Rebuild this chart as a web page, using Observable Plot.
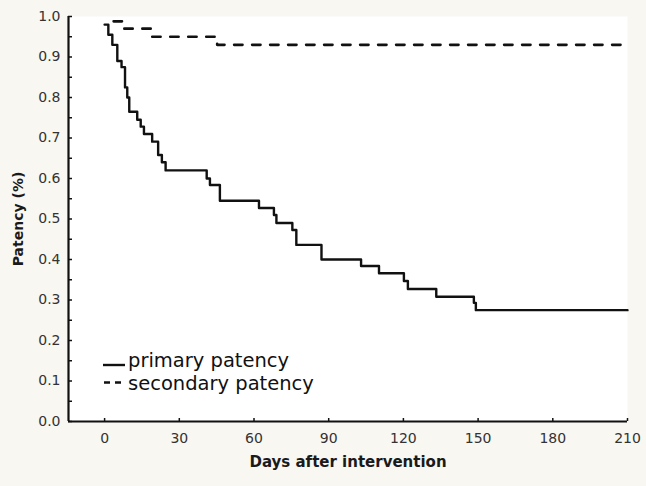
<!DOCTYPE html>
<html>
<head>
<meta charset="utf-8">
<script src="https://cdn.jsdelivr.net/npm/d3@7"></script>
<script src="https://cdn.jsdelivr.net/npm/@observablehq/plot@0.6"></script>
<style>
  html, body { margin: 0; padding: 0; background: #f9f7f2; }
  #wrap { position: relative; width: 646px; height: 486px; overflow: hidden; }
  .lg { position: absolute; font-family: "DejaVu Sans", sans-serif; font-size: 19.5px; line-height: 20px; color: #111; white-space: nowrap; }
  .sw { position: absolute; }
</style>
</head>
<body>
<div id="wrap"></div>
<script>
// Primary patency (Kaplan-Meier steps): day of step, survival after step
const primaryDays = [0, 1.5, 3.1, 5.1, 6.8, 8.2, 9.1, 9.9, 13.1, 14.5, 15.8, 19.1, 21.5, 23.0, 24.5, 41.0, 42.3, 46.3, 62.0, 68.0, 69.0, 75.4, 77.0, 87.1, 103.0, 110.2, 120.2, 121.8, 133.2, 148.3, 149.1, 210];
const primaryValues = [0.98, 0.955, 0.93, 0.89, 0.875, 0.825, 0.80, 0.765, 0.745, 0.728, 0.71, 0.691, 0.658, 0.64, 0.62, 0.60, 0.584, 0.545, 0.527, 0.51, 0.49, 0.473, 0.436, 0.40, 0.384, 0.366, 0.347, 0.327, 0.308, 0.293, 0.275, 0.275];
// Secondary patency
const secondaryDays = [0, 7.5, 18.6, 45.2, 210];
const secondaryValues = [0.988, 0.97, 0.95, 0.93, 0.93];

const xTicks = [0, 30, 60, 90, 120, 150, 180, 210];
const yTicks = [0, 0.1, 0.2, 0.3, 0.4, 0.5, 0.6, 0.7, 0.8, 0.9, 1.0];
const yMinorTicks = [0, 0.05, 0.1, 0.15, 0.2, 0.25, 0.3, 0.35, 0.4, 0.45, 0.5, 0.55, 0.6, 0.65, 0.7, 0.75, 0.8, 0.85, 0.9, 0.95, 1.0];
const xDomain = [-14.5, 210];
const yDomain = [0, 1];
const xTitle = "Days after intervention";
const yTitle = "Patency (%)";
const seriesNames = ["primary patency", "secondary patency"];

const primary = primaryDays.map((d, i) => ({d, p: primaryValues[i]}));
const secondary = secondaryDays.map((d, i) => ({d, p: secondaryValues[i]}));

const W = 646, H = 486, mL = 68, mR = 19, mT = 16, mB = 65;
const frameW = W - mL - mR, frameH = H - mT - mB;

const chart = Plot.plot({
  width: W, height: H,
  marginLeft: mL, marginRight: mR, marginTop: mT, marginBottom: mB,
  style: {background: "transparent", fontFamily: "DejaVu Sans, sans-serif", fontSize: "14px", color: "#222"},
  x: {domain: xDomain},
  y: {domain: yDomain},
  marks: [
    Plot.frame({fill: "white", stroke: null}),
    Plot.axisY(yTicks, {tickSize: 0, tickPadding: 8, tickFormat: d3.format(".1f"), fontSize: 14, fill: "#333", label: null}),
    Plot.axisX(xTicks, {tickSize: 0, tickPadding: 12, fontSize: 14, fill: "#333", label: null}),
    Plot.tickY(yMinorTicks, {y: d => d, insetRight: frameW - 4, stroke: "#111", strokeWidth: 1.5}),
    Plot.tickX(xTicks, {x: d => d, insetTop: frameH - 3, stroke: "#111", strokeWidth: 1.5}),
    Plot.ruleX([xDomain[0]], {stroke: "#111", strokeWidth: 2.2}),
    Plot.ruleY([yDomain[0]], {stroke: "#111", strokeWidth: 2.2}),
    Plot.line(secondary, {x: "d", y: "p", curve: "step-after", stroke: "#111", strokeWidth: 2.6, strokeDasharray: "8.4,9.6", strokeDashoffset: 9}),
    Plot.line(primary, {x: "d", y: "p", curve: "step-after", stroke: "#111", strokeWidth: 2.4}),
    Plot.text([yTitle], {frameAnchor: "left", dx: -50, rotate: -90, textAnchor: "middle", fontWeight: "bold", fontSize: 14, fill: "#1a1a1a"}),
    Plot.text([xTitle], {frameAnchor: "bottom", dy: 45, fontWeight: "bold", fontSize: 15, fill: "#1a1a1a"})
  ]
});

const wrap = document.getElementById("wrap");
wrap.appendChild(chart);

// Legend (HTML overlay)
const legendRows = [
  {name: seriesNames[0], dash: null, top: 351.2, swY: 14},
  {name: seriesNames[1], dash: "6,5", top: 374, swY: 8.5}
];
legendRows.forEach(r => {
  const sw = document.createElementNS("http://www.w3.org/2000/svg", "svg");
  sw.setAttribute("class", "sw");
  sw.setAttribute("width", "24");
  sw.setAttribute("height", "20");
  sw.style.left = "103px";
  sw.style.top = r.top + "px";
  const ln = document.createElementNS("http://www.w3.org/2000/svg", "line");
  ln.setAttribute("x1", r.dash ? 1 : 0);
  ln.setAttribute("x2", r.dash ? 20 : 22);
  ln.setAttribute("y1", r.swY);
  ln.setAttribute("y2", r.swY);
  ln.setAttribute("stroke", "#111");
  ln.setAttribute("stroke-width", "2.4");
  if (r.dash) ln.setAttribute("stroke-dasharray", r.dash);
  sw.appendChild(ln);
  wrap.appendChild(sw);
  const t = document.createElement("div");
  t.className = "lg";
  t.style.left = "128px";
  t.style.top = r.top + "px";
  t.textContent = r.name;
  wrap.appendChild(t);
});
</script>
</body>
</html>
